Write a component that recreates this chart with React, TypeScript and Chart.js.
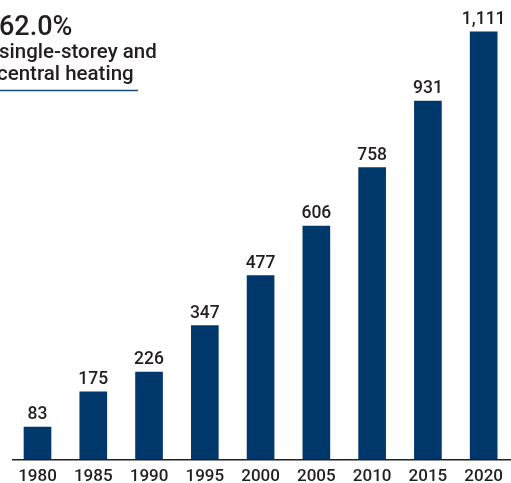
import React, { useEffect, useRef } from "react";
import { Chart, registerables } from "chart.js";

Chart.register(...registerables);

const years = ["1980", "1985", "1990", "1995", "2000", "2005", "2010", "2015", "2020"];
const values = [83, 175, 226, 347, 477, 606, 758, 931, 1111];
const titleBig = "62.0%";
const titleLines = ["single-storey and", "central heating"];

const BAR = "#00386b";
const TEXT = "#231f20";
const FONT = "Roboto, 'Liberation Sans', Arial, sans-serif";

const overlay = {
  id: "overlay",
  afterDatasetsDraw(chart: any) {
    const ctx = chart.ctx as CanvasRenderingContext2D;
    const area = chart.chartArea;
    ctx.save();
    // axis baseline
    ctx.strokeStyle = TEXT;
    ctx.lineWidth = 1.6;
    ctx.beginPath();
    ctx.moveTo(12, area.bottom + 0.8);
    ctx.lineTo(chart.width, area.bottom + 0.8);
    ctx.stroke();
    // value labels
    const meta = chart.getDatasetMeta(0);
    ctx.fillStyle = TEXT;
    ctx.font = `500 17.5px ${FONT}`;
    ctx.textAlign = "center";
    ctx.textBaseline = "alphabetic";
    meta.data.forEach((el: any, i: number) => {
      ctx.fillText(values[i].toLocaleString("en-US"), el.x, el.y - 8);
    });
    // title
    ctx.textAlign = "left";
    ctx.font = `500 27px ${FONT}`;
    ctx.fillText(titleBig, -1, 35);
    ctx.font = `500 20.5px ${FONT}`;
    ctx.fillText(titleLines[0], -1, 57.5);
    ctx.fillText(titleLines[1], -3, 80);
    ctx.strokeStyle = "#1d4a7a";
    ctx.lineWidth = 1.4;
    ctx.beginPath();
    ctx.moveTo(0, 90.5);
    ctx.lineTo(138, 90.5);
    ctx.stroke();
    ctx.restore();
  },
};

export default function App() {
  const ref = useRef<HTMLCanvasElement>(null);
  useEffect(() => {
    if (!ref.current) return;
    const chart = new Chart(ref.current, {
      type: "bar",
      data: {
        labels: years,
        datasets: [
          {
            data: values,
            backgroundColor: BAR,
            barThickness: 27,
            clip: false,
          } as any,
        ],
      },
      options: {
        responsive: false,
        animation: false,
        layout: { padding: { left: 37.5, right: 24, top: 0, bottom: -12.4 } },
        plugins: { legend: { display: false }, tooltip: { enabled: false } },
        scales: {
          x: {
            offset: false,
            grid: { display: false, drawTicks: false },
            border: { display: false },
            ticks: {
              color: TEXT,
              font: { family: FONT, size: 17, weight: "500" },
              padding: 8,
              maxRotation: 0,
              autoSkip: false,
            },
          },
          y: {
            display: false,
            min: 0,
            max: 1194,
          },
        },
      },
      plugins: [overlay],
    });
    return () => chart.destroy();
  }, []);
  return (
    <div style={{ position: "absolute", left: 0, top: 0, width: 511, height: 483, background: "#fff" }}>
      <canvas ref={ref} width={511} height={483} style={{ display: "block" }} />
    </div>
  );
}
